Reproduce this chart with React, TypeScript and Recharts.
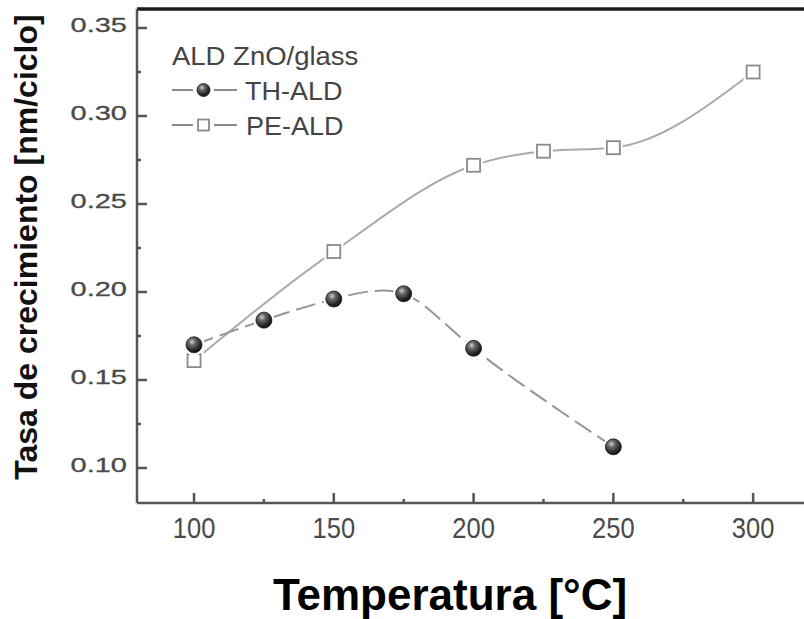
import React from 'react';
import { ComposedChart, Line, XAxis, YAxis, Legend, ReferenceLine } from 'recharts';

const thTemps = [100, 125, 150, 175, 200, 250];
const thRates = [0.170, 0.184, 0.196, 0.199, 0.168, 0.112];
const peTemps = [100, 150, 200, 225, 250, 300];
const peRates = [0.161, 0.223, 0.272, 0.280, 0.282, 0.325];
const xTicks = [100, 125, 150, 175, 200, 225, 250, 275, 300];
const yTicks = [0.10, 0.125, 0.15, 0.175, 0.20, 0.225, 0.25, 0.275, 0.30, 0.325, 0.35];
const xDomain = [79.6, 318.2];
const yDomain = [0.0801, 0.3608];
const seriesNames = ['TH-ALD', 'PE-ALD'];
const legendTitle = 'ALD ZnO/glass';
const xTitle = 'Temperatura [°C]';
const yTitle = 'Tasa de crecimiento [nm/ciclo]';

const thData = thTemps.map((t, i) => ({ t, v: thRates[i] }));
const peData = peTemps.map((t, i) => ({ t, v: peRates[i] }));

const FONT = '"Liberation Sans", Arial, Helvetica, sans-serif';
const AXIS = '#555';

const isMajorX = (v: number) => Math.abs(v % 50) < 1e-6;
const isMajorY = (v: number) => Math.abs(v * 20 - Math.round(v * 20)) < 1e-6;

const Sphere = ({ cx, cy, r, halo = 2.5 }: any) => (
  <g>
    {halo > 0 && <circle cx={cx} cy={cy} r={r + halo} fill="#fff" />}
    <circle cx={cx} cy={cy} r={r} fill="url(#thSphere)" stroke="#1a1a1a" strokeWidth={0.8} />
  </g>
);

const Square = ({ cx, cy, s, halo = 3 }: any) => (
  <g>
    {halo > 0 && <rect x={cx - s / 2 - halo} y={cy - s / 2 - halo} width={s + 2 * halo} height={s + 2 * halo} fill="#fff" />}
    <rect x={cx - s / 2} y={cy - s / 2} width={s} height={s} fill="#fff" stroke="#8a8a8a" strokeWidth={1.8} />
  </g>
);

const XTick = (props: any) => {
  const { x, y, payload } = props;
  const v = payload.value;
  const major = isMajorX(v);
  return (
    <g>
      <rect x={x - 1.25} y={y - (major ? 10 : 4)} width={2.5} height={major ? 10 : 4} fill={AXIS} />
      {major && (
        <text transform={`translate(${x},${y + 35}) scale(0.88,1)`} textAnchor="middle" fontFamily={FONT} fontSize={29} fill="#4a4a4a">
          {String(v)}
        </text>
      )}
    </g>
  );
};

const YTick = (props: any) => {
  const { x, y, payload } = props;
  const v = payload.value;
  const major = isMajorY(v);
  return (
    <g>
      <rect x={x} y={y - 1.25} width={major ? 10 : 4} height={2.5} fill={AXIS} />
      {major && (
        <text transform={`translate(${x - 10},${y + 4}) scale(1.45,1)`} textAnchor="end" fontFamily={FONT} fontSize={20} fill="#4a4a4a" stroke="#4a4a4a" strokeWidth={0.3}>
          {v.toFixed(2)}
        </text>
      )}
    </g>
  );
};

const LegendBox = () => (
  <svg width={420} height={160} style={{ display: 'block', overflow: 'visible' }}>
    <text transform="translate(172,65) scale(1.1,1)" fontFamily={FONT} fontSize={25} fill="#444">{legendTitle}</text>
    <line x1={172} y1={90} x2={193} y2={90} stroke="#8a8a8a" strokeWidth={2} />
    <line x1={214} y1={90} x2={237} y2={90} stroke="#8a8a8a" strokeWidth={2} />
    <Sphere cx={203.5} cy={90} r={6.5} halo={0} />
    <text transform="translate(245,100) scale(1.08,1)" fontFamily={FONT} fontSize={25} fill="#444">{seriesNames[0]}</text>
    <line x1={172} y1={125} x2={193} y2={125} stroke="#8a8a8a" strokeWidth={2} />
    <line x1={214} y1={125} x2={237} y2={125} stroke="#8a8a8a" strokeWidth={2} />
    <Square cx={203.5} cy={125} s={11} halo={0} />
    <text transform="translate(246,135) scale(1.08,1)" fontFamily={FONT} fontSize={25} fill="#444">{seriesNames[1]}</text>
  </svg>
);

export default function App() {
  return (
    <div style={{ position: 'absolute', left: 0, top: 0, width: 804, height: 619, background: '#fff', overflow: 'hidden' }}>
      <svg width={0} height={0} style={{ position: 'absolute' }}>
        <defs>
          <radialGradient id="thSphere" cx="38%" cy="32%" r="70%">
            <stop offset="0%" stopColor="#d0d0d0" />
            <stop offset="30%" stopColor="#6a6a6a" />
            <stop offset="75%" stopColor="#262626" />
            <stop offset="100%" stopColor="#111" />
          </radialGradient>
        </defs>
      </svg>
      <ComposedChart width={804} height={619} margin={{ top: 9, right: 0, bottom: 0, left: 0 }}>
        <XAxis
          dataKey="t"
          type="number"
          domain={xDomain}
          allowDataOverflow
          ticks={xTicks}
          interval={0}
          height={116}
          tickSize={0}
          tickMargin={0}
          tickLine={false}
          tick={<XTick />}
          axisLine={{ stroke: AXIS, strokeWidth: 2.5 }}
          label={{
            content: () => (
              <text x={450} y={610} textAnchor="middle" fontFamily={FONT} fontSize={44} fontWeight="bold" fill="#000">
                {xTitle}
              </text>
            ),
          }}
        />
        <YAxis
          type="number"
          domain={yDomain}
          allowDataOverflow
          ticks={yTicks}
          interval={0}
          width={137}
          tickSize={0}
          tickMargin={0}
          tickLine={false}
          tick={<YTick />}
          axisLine={{ stroke: AXIS, strokeWidth: 2.5 }}
          label={{
            content: () => (
              <text
                x={37}
                y={247}
                transform="rotate(-90,37,247)"
                textAnchor="middle"
                fontFamily={FONT}
                fontSize={32}
                fontWeight="bold"
                fill="#111"
              >
                {yTitle}
              </text>
            ),
          }}
        />
        <ReferenceLine y={yDomain[1]} stroke="#1c1c1c" strokeWidth={3.5} ifOverflow="visible" />
        <Legend
          layout="vertical"
          align="center"
          verticalAlign="middle"
          content={() => <LegendBox />}
          wrapperStyle={{ left: 0, top: 0, width: 420, height: 160 }}
        />
        <Line
          data={peData}
          dataKey="v"
          name={seriesNames[1]}
          type="monotone"
          stroke="#aaaaaa"
          strokeWidth={2}
          isAnimationActive={false}
          dot={(p: any) => <Square key={`pe${p.index}`} cx={p.cx} cy={p.cy} s={13} />}
          activeDot={false}
        />
        <Line
          data={thData}
          dataKey="v"
          name={seriesNames[0]}
          type="natural"
          stroke="#969696"
          strokeWidth={2}
          strokeDasharray="20 7"
          isAnimationActive={false}
          dot={(p: any) => <Sphere key={`th${p.index}`} cx={p.cx} cy={p.cy} r={8} />}
          activeDot={false}
        />
      </ComposedChart>
    </div>
  );
}
